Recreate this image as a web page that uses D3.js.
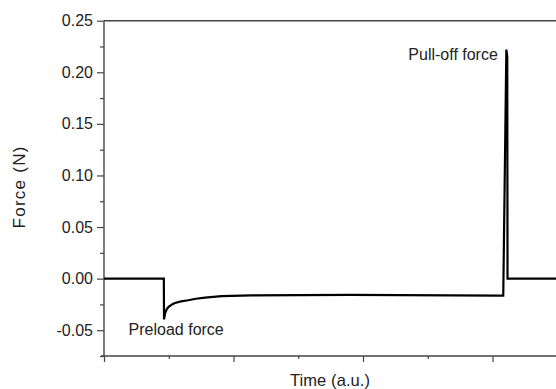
<!DOCTYPE html>
<html><head><meta charset="utf-8">
<script src="https://cdn.jsdelivr.net/npm/d3@7"></script>
<style>
html,body{margin:0;padding:0;background:#fff;}
svg{display:block;font-family:"Liberation Sans",Arial,sans-serif;}
</style></head>
<body><svg id="c" width="556" height="389"></svg>
<script>
// Data (time in arbitrary units, force in N)
const timeValues = [0, 0.462, 0.4635, 0.471, 0.483, 0.497, 0.525, 0.548, 0.595, 0.649, 0.710, 0.780, 0.909, 1.141, 1.514, 1.90, 2.286, 2.672, 3.058, 3.083, 3.107, 3.114, 3.116, 3.7];
const forceValues = [0, 0, -0.0395, -0.034, -0.030, -0.0275, -0.025, -0.0236, -0.022, -0.021, -0.0195, -0.0184, -0.0170, -0.0163, -0.0160, -0.0158, -0.0160, -0.0162, -0.0165, -0.0165, 0.222, 0.215, 0.0, 0.0];
const yTickLabels = ["-0.05", "0.00", "0.05", "0.10", "0.15", "0.20", "0.25"];
const yMajor = [-0.05, 0, 0.05, 0.10, 0.15, 0.20, 0.25];
const yMinor = [-0.075, -0.025, 0.025, 0.075, 0.125, 0.175, 0.225];
const xMajor = [0, 1, 2, 3];
const xMinor = [0.5, 1.5, 2.5, 3.5];
const annotations = [
  {text: "Preload force", t: 0.19, f: -0.055},
  {text: "Pull-off force", t: 2.35, f: 0.2115}
];

const svg = d3.select("#c");
const x = d3.scaleLinear().domain([0, 4]).range([104, 622]);
const y = d3.scaleLinear().domain([-0.075, 0.25]).range([356, 20.7]);
const axisColor = "#444";

// top frame line
svg.append("line").attr("x1", x(0)).attr("x2", 556).attr("y1", y(0.25)).attr("y2", y(0.25))
  .attr("stroke", axisColor).attr("stroke-width", 1.4);

// left axis
const gy = svg.append("g").attr("transform", `translate(${x(0)},0)`)
  .call(d3.axisLeft(y).tickValues(yMajor).tickSize(7).tickPadding(4)
    .tickFormat((d, i) => yTickLabels[i]));
gy.selectAll(".domain").remove();
gy.append("line").attr("y1", y(-0.075)).attr("y2", y(0.25)).attr("stroke", axisColor).attr("stroke-width", 1.4);
gy.selectAll(".tick line").attr("stroke", axisColor).attr("stroke-width", 1.2);
gy.selectAll(".tick text").attr("fill", "#222").style("font-size", "16px").style("font-family", "Liberation Sans, Arial, sans-serif");
const gyMin = svg.append("g").attr("transform", `translate(${x(0)},0)`)
  .call(d3.axisLeft(y).tickValues(yMinor).tickSize(4).tickFormat(""));
gyMin.selectAll(".domain").remove();
gyMin.selectAll(".tick line").attr("stroke", axisColor).attr("stroke-width", 1.2);

// bottom axis
const gx = svg.append("g").attr("transform", `translate(0,${y(-0.075)})`)
  .call(d3.axisBottom(x).tickValues(xMajor).tickSize(6).tickFormat(""));
gx.selectAll(".domain").remove();
gx.append("line").attr("x1", x(0) - 3).attr("x2", 556).attr("stroke", axisColor).attr("stroke-width", 1.4);
gx.selectAll(".tick line").attr("stroke", axisColor).attr("stroke-width", 1.2);
const gxMin = svg.append("g").attr("transform", `translate(0,${y(-0.075)})`)
  .call(d3.axisBottom(x).tickValues(xMinor).tickSize(3).tickFormat(""));
gxMin.selectAll(".domain").remove();
gxMin.selectAll(".tick line").attr("stroke", axisColor).attr("stroke-width", 1.2);

// data line
const pts = timeValues.map((t, i) => [t, forceValues[i]]);
svg.append("path").datum(pts)
  .attr("fill", "none").attr("stroke", "#000").attr("stroke-width", 2.2)
  .attr("stroke-linejoin", "miter")
  .attr("d", d3.line().x(d => x(d[0])).y(d => y(d[1])));

// annotations
svg.selectAll("text.ann").data(annotations).enter().append("text")
  .attr("class", "ann")
  .attr("x", d => x(d.t)).attr("y", d => y(d.f))
  .attr("fill", "#222").style("font-size", "16px")
  .text(d => d.text);

// axis titles
svg.append("text").attr("x", 330).attr("y", 386).attr("text-anchor", "middle")
  .attr("fill", "#222").style("font-size", "16.5px").attr("textLength", 80).text("Time (a.u.)");
svg.append("text").attr("transform", "translate(25,187.5) rotate(-90)").attr("text-anchor", "middle")
  .attr("fill", "#222").style("font-size", "17px").attr("textLength", 82).text("Force (N)");
</script>
</body></html>
